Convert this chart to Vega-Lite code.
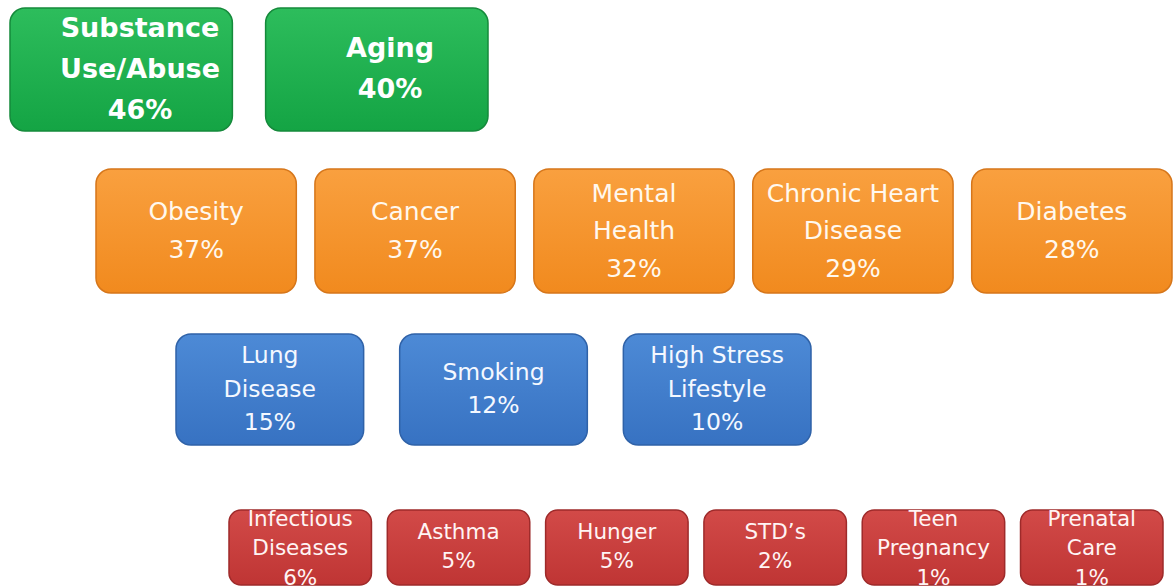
{
  "$schema": "https://vega.github.io/schema/vega-lite/v6.json",
  "width": 1175,
  "height": 588,
  "padding": 0,
  "autosize": {"type": "none"},
  "background": "white",
  "config": {"view": {"stroke": null}},
  "data": {
    "values": [
      {"tier": 1, "name": "Substance Use/Abuse", "text": "Substance\nUse/Abuse\n46%", "pct": 46},
      {"tier": 1, "name": "Aging", "text": "Aging\n40%", "pct": 40},
      {"tier": 2, "name": "Obesity", "text": "Obesity\n37%", "pct": 37},
      {"tier": 2, "name": "Cancer", "text": "Cancer\n37%", "pct": 37},
      {"tier": 2, "name": "Mental Health", "text": "Mental\nHealth\n32%", "pct": 32},
      {"tier": 2, "name": "Chronic Heart Disease", "text": "Chronic Heart\nDisease\n29%", "pct": 29},
      {"tier": 2, "name": "Diabetes", "text": "Diabetes\n28%", "pct": 28},
      {"tier": 3, "name": "Lung Disease", "text": "Lung\nDisease\n15%", "pct": 15},
      {"tier": 3, "name": "Smoking", "text": "Smoking\n12%", "pct": 12},
      {"tier": 3, "name": "High Stress Lifestyle", "text": "High Stress\nLifestyle\n10%", "pct": 10},
      {"tier": 4, "name": "Infectious Diseases", "text": "Infectious\nDiseases\n6%", "pct": 6},
      {"tier": 4, "name": "Asthma", "text": "Asthma\n5%", "pct": 5},
      {"tier": 4, "name": "Hunger", "text": "Hunger\n5%", "pct": 5},
      {"tier": 4, "name": "STD’s", "text": "STD’s\n2%", "pct": 2},
      {"tier": 4, "name": "Teen Pregnancy", "text": "Teen\nPregnancy\n1%", "pct": 1},
      {"tier": 4, "name": "Prenatal Care", "text": "Prenatal\nCare\n1%", "pct": 1}
    ]
  },
  "layer": [
    {
      "transform": [{"filter": "datum.tier == 1"}],
      "encoding": {
        "y": {"field": "tier", "type": "ordinal", "axis": null, "scale": {"range": [8, 131], "paddingInner": 0, "paddingOuter": 0}}
      },
      "layer": [
        {
          "mark": {"type": "rect", "cornerRadius": 15, "stroke": "#158a3b", "strokeWidth": 1.5,
            "fill": {"gradient": "linear", "x1": 0, "y1": 0, "x2": 0, "y2": 1, "stops": [{"offset": 0, "color": "#2dbd5c"}, {"offset": 1, "color": "#14a444"}]}},
          "encoding": {
            "x": {"field": "name", "type": "nominal", "sort": null, "axis": null, "scale": {"domain": ["Substance Use/Abuse", "Aging"], "range": [10, 488], "paddingInner": 0.13, "paddingOuter": 0}}
          }
        },
        {
          "encoding": {
            "x": {"field": "name", "type": "nominal", "sort": null, "axis": null, "scale": {"domain": ["Substance Use/Abuse", "Aging"], "range": [15, 515], "paddingInner": 0, "paddingOuter": 0}},
            "text": {"field": "text"}
          },
          "layer": [
            {
              "transform": [{"filter": "split(datum.text, '\\n').length == 3"}],
              "mark": {"type": "text", "font": "DejaVu Sans", "fontWeight": "bold", "fontSize": 27, "lineHeight": 41, "color": "#ffffff", "baseline": "middle", "align": "center", "lineBreak": "\n", "dy": -41}
            },
            {
              "transform": [{"filter": "split(datum.text, '\\n').length == 2"}],
              "mark": {"type": "text", "font": "DejaVu Sans", "fontWeight": "bold", "fontSize": 27, "lineHeight": 41, "color": "#ffffff", "baseline": "middle", "align": "center", "lineBreak": "\n", "dy": -20.5}
            }
          ]
        }
      ],
      "resolve": {"scale": {"x": "independent"}}
    },
    {
      "transform": [{"filter": "datum.tier == 2"}],
      "encoding": {
        "x": {"field": "name", "type": "nominal", "sort": null, "axis": null, "scale": {"domain": ["Obesity", "Cancer", "Mental Health", "Chronic Heart Disease", "Diabetes"], "range": [96, 1172], "paddingInner": 0.085, "paddingOuter": 0}},
        "y": {"field": "tier", "type": "ordinal", "axis": null, "scale": {"range": [169, 293], "paddingInner": 0, "paddingOuter": 0}}
      },
      "layer": [
        {
          "mark": {"type": "rect", "cornerRadius": 15, "stroke": "#d6761a", "strokeWidth": 1.5,
            "fill": {"gradient": "linear", "x1": 0, "y1": 0, "x2": 0, "y2": 1, "stops": [{"offset": 0, "color": "#f9a03f"}, {"offset": 1, "color": "#f18a1e"}]}}
        },
        {
          "transform": [{"filter": "split(datum.text, '\\n').length == 3"}],
          "mark": {"type": "text", "font": "DejaVu Sans", "fontSize": 25, "lineHeight": 37.5, "color": "#fff8ee", "baseline": "middle", "align": "center", "lineBreak": "\n", "dy": -37.5},
          "encoding": {"text": {"field": "text"}}
        },
        {
          "transform": [{"filter": "split(datum.text, '\\n').length == 2"}],
          "mark": {"type": "text", "font": "DejaVu Sans", "fontSize": 25, "lineHeight": 37.5, "color": "#fff8ee", "baseline": "middle", "align": "center", "lineBreak": "\n", "dy": -18.75},
          "encoding": {"text": {"field": "text"}}
        }
      ]
    },
    {
      "transform": [{"filter": "datum.tier == 3"}],
      "encoding": {
        "x": {"field": "name", "type": "nominal", "sort": null, "axis": null, "scale": {"domain": ["Lung Disease", "Smoking", "High Stress Lifestyle"], "range": [176, 811], "paddingInner": 0.161, "paddingOuter": 0}},
        "y": {"field": "tier", "type": "ordinal", "axis": null, "scale": {"range": [334, 445], "paddingInner": 0, "paddingOuter": 0}}
      },
      "layer": [
        {
          "mark": {"type": "rect", "cornerRadius": 15, "stroke": "#2f62a8", "strokeWidth": 1.5,
            "fill": {"gradient": "linear", "x1": 0, "y1": 0, "x2": 0, "y2": 1, "stops": [{"offset": 0, "color": "#4d8ad6"}, {"offset": 1, "color": "#3772c2"}]}}
        },
        {
          "transform": [{"filter": "split(datum.text, '\\n').length == 3"}],
          "mark": {"type": "text", "font": "DejaVu Sans", "fontSize": 23.5, "lineHeight": 33.5, "color": "#f4f8ff", "baseline": "middle", "align": "center", "lineBreak": "\n", "dy": -33.5},
          "encoding": {"text": {"field": "text"}}
        },
        {
          "transform": [{"filter": "split(datum.text, '\\n').length == 2"}],
          "mark": {"type": "text", "font": "DejaVu Sans", "fontSize": 23.5, "lineHeight": 33.5, "color": "#f4f8ff", "baseline": "middle", "align": "center", "lineBreak": "\n", "dy": -16.75},
          "encoding": {"text": {"field": "text"}}
        }
      ]
    },
    {
      "transform": [{"filter": "datum.tier == 4"}],
      "encoding": {
        "x": {"field": "name", "type": "nominal", "sort": null, "axis": null, "scale": {"domain": ["Infectious Diseases", "Asthma", "Hunger", "STD’s", "Teen Pregnancy", "Prenatal Care"], "range": [229, 1163], "paddingInner": 0.1, "paddingOuter": 0}},
        "y": {"field": "tier", "type": "ordinal", "axis": null, "scale": {"range": [510, 585], "paddingInner": 0, "paddingOuter": 0}}
      },
      "layer": [
        {
          "mark": {"type": "rect", "cornerRadius": 12, "stroke": "#9e2a2a", "strokeWidth": 1.5,
            "fill": {"gradient": "linear", "x1": 0, "y1": 0, "x2": 0, "y2": 1, "stops": [{"offset": 0, "color": "#d24a48"}, {"offset": 1, "color": "#bf3534"}]}}
        },
        {
          "transform": [{"filter": "split(datum.text, '\\n').length == 3"}],
          "mark": {"type": "text", "font": "DejaVu Sans", "fontSize": 21.5, "lineHeight": 29.5, "color": "#fff4f4", "baseline": "middle", "align": "center", "lineBreak": "\n", "dy": -28},
          "encoding": {"text": {"field": "text"}}
        },
        {
          "transform": [{"filter": "split(datum.text, '\\n').length == 2"}],
          "mark": {"type": "text", "font": "DejaVu Sans", "fontSize": 21.5, "lineHeight": 29.5, "color": "#fff4f4", "baseline": "middle", "align": "center", "lineBreak": "\n", "dy": -14.75},
          "encoding": {"text": {"field": "text"}}
        }
      ]
    }
  ],
  "resolve": {"scale": {"x": "independent", "y": "independent"}}
}
